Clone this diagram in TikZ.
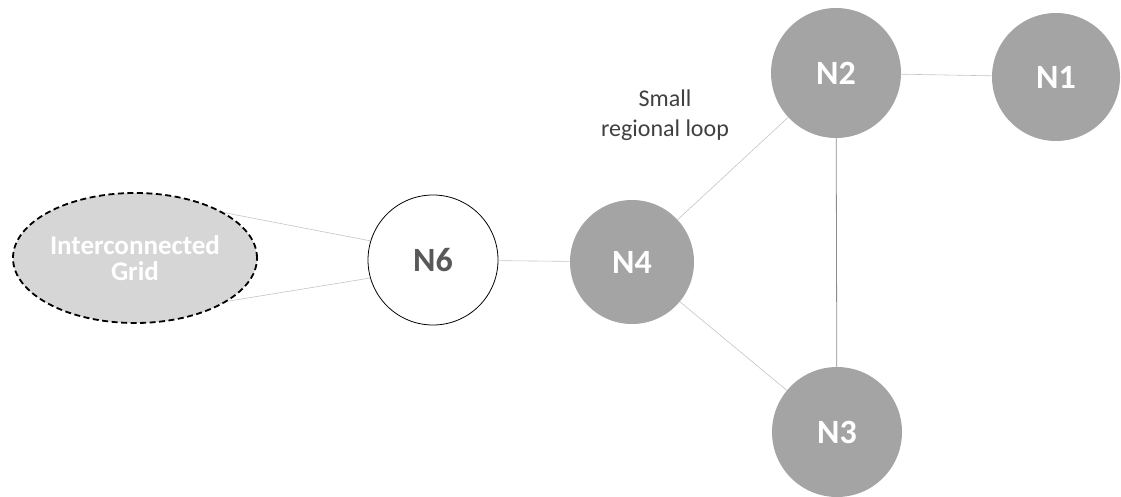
\documentclass[tikz,border=0pt]{standalone}
\usepackage{fontspec}
\setmainfont{Carlito}
\usepackage{xcolor}
\usetikzlibrary{shapes.geometric,positioning}

\definecolor{nodegray}{HTML}{A4A4A4}
\definecolor{gridgray}{HTML}{D6D6D6}
\definecolor{linkgray}{HTML}{C4C4C4}

\begin{document}
\begin{tikzpicture}[x=1pt, y=-1pt,
    bus/.style={circle, minimum size=130pt, inner sep=0pt, font=\fontsize{34}{34}\selectfont\bfseries},
    loopbus/.style={bus, fill=nodegray, text=white},
    link/.style={draw=linkgray, line width=0.6pt}]
    \useasboundingbox (0,0) rectangle (1121,497);

    \node[ellipse, draw, dash pattern=on 6pt off 3.5pt, line width=1.8pt, fill=gridgray, text=white,
          minimum width=244pt, minimum height=130pt, inner sep=0pt, align=center,
          font=\fontsize{27}{26}\selectfont\bfseries] (grid) at (135,258) {Interconnected\\Grid};

    \node[bus, draw, line width=0.8pt, fill=white, text=black!65] (n6) at (433,260) {N6};
    \node[loopbus, minimum size=124pt] (n4) at (632,262) {N4};
    \node[loopbus] (n2) at (836,73) {N2};
    \node[loopbus, minimum size=128pt] (n1) at (1056,77) {N1};
    \node[loopbus] (n3) at (837,432) {N3};

    \node[align=center, text=black!75, font=\fontsize{24}{30}\selectfont] (lbl) at (665,115) {Small\\regional loop};

    \draw[link] (grid.27) -- (n6.163);
    \draw[link] (grid.-25) -- (n6.196);
    \draw[link] (n6) -- (n4);
    \draw[link] (n4) -- (n2);
    \draw[link] (n4) -- (n3);
    \draw[link] (n2) -- (n1);
    \draw[draw=black!45, line width=0.8pt] (n2) -- (n3);
\end{tikzpicture}
\end{document}
